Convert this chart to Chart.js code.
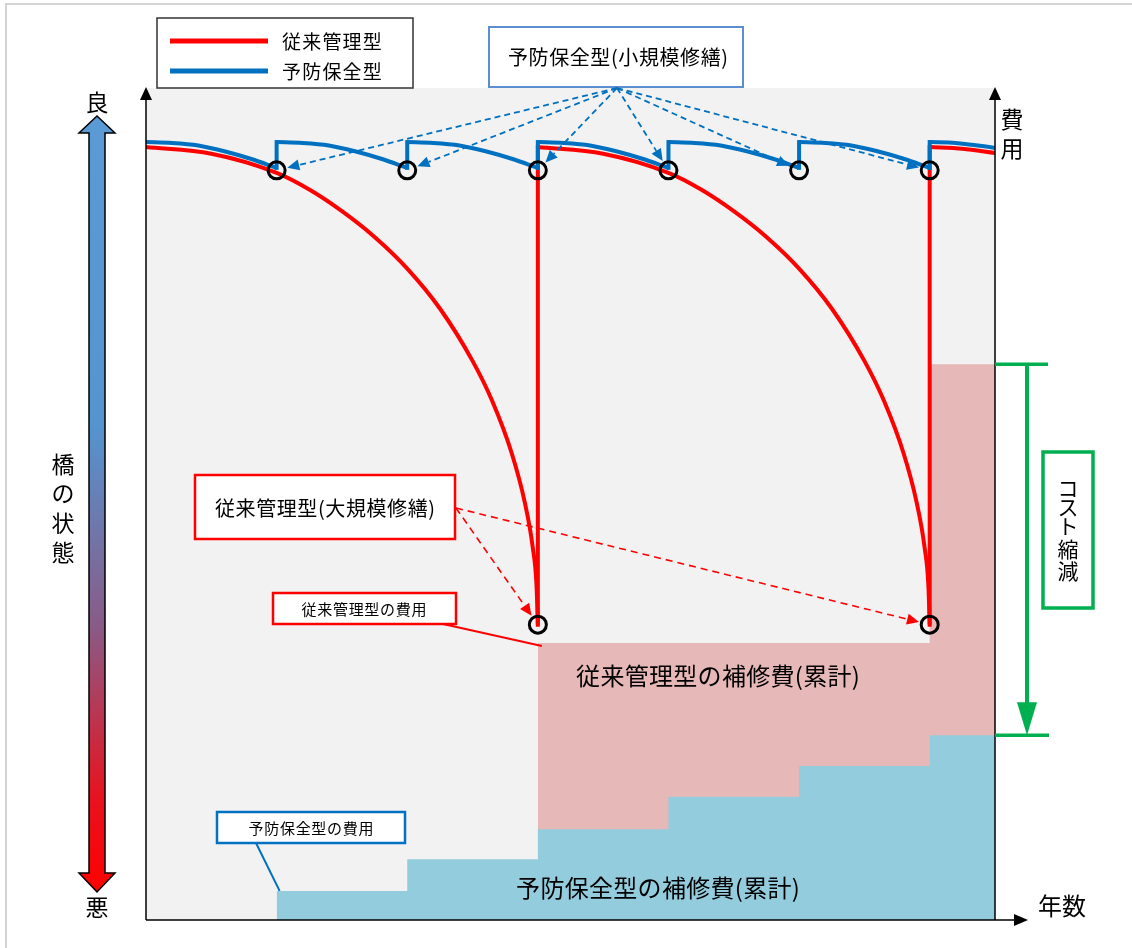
<!DOCTYPE html>
<html lang="ja">
<head>
<meta charset="utf-8">
<title>予防保全型と従来管理型</title>
<script src="https://cdn.jsdelivr.net/npm/chart.js@4.4.1/dist/chart.umd.min.js"></script>
<style>
  html, body { margin: 0; padding: 0; background: #fff; }
  #wrap { width: 1132px; height: 948px; }
</style>
</head>
<body>
<div id="wrap"><canvas id="lcc" width="1132" height="948"></canvas></div>
<script>
// x: 年数 (小規模修繕の間隔 = 1), y: 橋の状態 / 費用 (0-100)

// 従来管理型 (red)
var redArc1 = [[0,92.9],[0.5,92.1],[1.0,89.8],[1.25,87.8],[1.5,85.2],[1.75,82.1],[2.0,78.3],[2.25,73.5],[2.5,67.2],[2.65,62.4],[2.8,56.1],[2.9,50.2],[2.96,44.9],[2.99,40.2],[3.0,35.5]];
var redArc2 = [[3,92.9],[3.5,92.1],[4.0,89.8],[4.25,87.8],[4.5,85.2],[4.75,82.1],[5.0,78.3],[5.25,73.5],[5.5,67.2],[5.65,62.4],[5.8,56.1],[5.9,50.2],[5.96,44.9],[5.99,40.2],[6.0,35.5]];
var redArc3 = [[6,92.9],[6.25,92.7],[6.5,92.2]];
var redRepairX = [3, 6];
var redRepairLow = [35.5, 35.5];
var redRepairHigh = [92.9, 92.9];

// 予防保全型 (blue)
var blueArc0 = [[0,93.5],[0.2,93.4],[0.4,93.1],[0.6,92.4],[0.8,91.5],[1,90.4]];
var blueArc1 = [[1,93.5],[1.2,93.4],[1.4,93.1],[1.6,92.4],[1.8,91.5],[2,90.4]];
var blueArc2 = [[2,93.5],[2.2,93.4],[2.4,93.1],[2.6,92.4],[2.8,91.5],[3,90.4]];
var blueArc3 = [[3,93.5],[3.2,93.4],[3.4,93.1],[3.6,92.4],[3.8,91.5],[4,90.4]];
var blueArc4 = [[4,93.5],[4.2,93.4],[4.4,93.1],[4.6,92.4],[4.8,91.5],[5,90.4]];
var blueArc5 = [[5,93.5],[5.2,93.4],[5.4,93.1],[5.6,92.4],[5.8,91.5],[6,90.4]];
var blueArc6 = [[6,93.5],[6.2,93.4],[6.5,92.8]];
var blueRepairX = [1, 2, 3, 4, 5, 6];
var blueRepairLow = [90.4, 90.4, 90.4, 90.4, 90.4, 90.4];
var blueRepairHigh = [93.5, 93.5, 93.5, 93.5, 93.5, 93.5];

// 補修時点 (○)
var smallRepairX = [1, 2, 3, 4, 5, 6];
var smallRepairY = [90.1, 90.1, 90.1, 90.1, 90.1, 90.1];
var largeRepairX = [3, 6];
var largeRepairY = [35.5, 35.5];

// 補修費(累計)
var redCostX = [3, 6, 6.5];
var redCostY = [33.3, 66.8, 66.8];
var blueCostX = [1, 2, 3, 4, 5, 6, 6.5];
var blueCostY = [3.5, 7.3, 10.9, 14.8, 18.5, 22.2, 22.2];

var FONT = '"Noto Sans CJK JP", "Noto Sans", sans-serif';
var RED = '#ff0000', BLUE = '#0070c0', GREEN = '#00b050';

function pts(arr) {
  return arr.map(function (p) { return { x: p[0], y: p[1] }; });
}
function zipPts(xs, ys) {
  return xs.map(function (x, i) { return { x: x, y: ys[i] }; });
}
function curve(arr, color, order) {
  return { type: 'line', data: pts(arr), borderColor: color, borderWidth: 4, pointRadius: 0,
           cubicInterpolationMode: 'monotone', fill: false, order: order };
}
function jump(x, lo, hi, color, order) {
  return { type: 'line', data: [{ x: x, y: lo }, { x: x, y: hi }], borderColor: color, borderWidth: 4,
           borderCapStyle: 'square', pointRadius: 0, fill: false, order: order };
}

var datasets = [];
datasets.push({ type: 'line', label: '従来管理型の補修費(累計)', data: zipPts(redCostX, redCostY), stepped: 'before',
  borderWidth: 0, pointRadius: 0, fill: 'origin', backgroundColor: '#e6b8b7', order: 5 });
datasets.push({ type: 'line', label: '予防保全型の補修費(累計)', data: zipPts(blueCostX, blueCostY), stepped: 'before',
  borderWidth: 0, pointRadius: 0, fill: 'origin', backgroundColor: '#93cddd', order: 4 });
[redArc1, redArc2, redArc3].forEach(function (a) { datasets.push(curve(a, RED, 3)); });
redRepairX.forEach(function (x, i) { datasets.push(jump(x, redRepairLow[i], redRepairHigh[i], RED, 3)); });
[blueArc0, blueArc1, blueArc2, blueArc3, blueArc4, blueArc5, blueArc6].forEach(function (a) { datasets.push(curve(a, BLUE, 2)); });
blueRepairX.forEach(function (x, i) { datasets.push(jump(x, blueRepairLow[i], blueRepairHigh[i], BLUE, 2)); });
datasets.push({ type: 'scatter', data: zipPts(smallRepairX, smallRepairY).concat(zipPts(largeRepairX, largeRepairY)),
  pointRadius: 8.5, pointBorderWidth: 3, pointBorderColor: '#000', pointBackgroundColor: 'rgba(0,0,0,0)', order: 0 });

function arrowLine(c, x1, y1, x2, y2, color, dash, lw) {
  var ang = Math.atan2(y2 - y1, x2 - x1), hl = 12, hw = 5.5;
  var bx = x2 - hl * Math.cos(ang), by = y2 - hl * Math.sin(ang);
  c.save();
  c.strokeStyle = color; c.fillStyle = color; c.lineWidth = lw;
  c.setLineDash(dash);
  c.beginPath(); c.moveTo(x1, y1); c.lineTo(bx, by); c.stroke();
  c.setLineDash([]);
  c.beginPath();
  c.moveTo(x2, y2);
  c.lineTo(bx + hw * Math.sin(ang), by - hw * Math.cos(ang));
  c.lineTo(bx - hw * Math.sin(ang), by + hw * Math.cos(ang));
  c.closePath(); c.fill();
  c.restore();
}
function box(c, x, y, w, h, color, lw) {
  c.save();
  c.fillStyle = '#fff'; c.fillRect(x, y, w, h);
  c.strokeStyle = color; c.lineWidth = lw; c.strokeRect(x, y, w, h);
  c.restore();
}
function label(c, s, x, y, size, align, spacing) {
  c.save();
  c.fillStyle = '#000'; c.font = size + 'px ' + FONT;
  c.letterSpacing = (spacing || 0) + 'px';
  c.textAlign = align || 'center'; c.textBaseline = 'middle';
  c.fillText(s, x + (align === 'left' ? 0 : (spacing || 0) / 2), y);
  c.restore();
}
function vlabel(c, s, x, ys, size) {
  for (var i = 0; i < s.length; i++) label(c, s[i], x, ys[i], size);
}
function line(c, x1, y1, x2, y2, color, lw) {
  c.save(); c.strokeStyle = color; c.lineWidth = lw;
  c.beginPath(); c.moveTo(x1, y1); c.lineTo(x2, y2); c.stroke(); c.restore();
}
function tri(c, p, color) {
  c.save(); c.fillStyle = color; c.beginPath();
  c.moveTo(p[0], p[1]); c.lineTo(p[2], p[3]); c.lineTo(p[4], p[5]);
  c.closePath(); c.fill(); c.restore();
}

var sketch = {
  id: 'sketch',
  beforeDraw: function (chart) {
    var c = chart.ctx, a = chart.chartArea;
    c.save();
    c.fillStyle = '#fff'; c.fillRect(0, 0, chart.width, chart.height);
    c.strokeStyle = '#d4d4d4'; c.lineWidth = 2;
    c.beginPath(); c.moveTo(6, chart.height); c.lineTo(6, 4); c.lineTo(chart.width, 4); c.stroke();
    c.fillStyle = '#f2f2f2'; c.fillRect(a.left, a.top, a.right - a.left, a.bottom - a.top);
    c.restore();
  },
  afterDatasetsDraw: function (chart) {
    var c = chart.ctx, a = chart.chartArea, sx = chart.scales.x, sy = chart.scales.y;

    // axes
    line(c, a.left, a.bottom, a.left, 98, '#000', 1.5);
    tri(c, [a.left, 87, a.left - 6, 100, a.left + 6, 100], '#000');
    line(c, a.right, a.bottom, a.right, 98, '#000', 1.5);
    tri(c, [a.right, 87, a.right - 6, 100, a.right + 6, 100], '#000');
    line(c, a.left, a.bottom, 1015, a.bottom, '#000', 1.5);
    tri(c, [1028, a.bottom, 1014, a.bottom - 6, 1014, a.bottom + 6], '#000');
    vlabel(c, '費用', 1012, [119, 148], 23);
    label(c, '年数', 1062, 906, 24);

    // 橋の状態 arrow
    var g = c.createLinearGradient(0, 116, 0, 892);
    g.addColorStop(0, '#5b9bd5'); g.addColorStop(0.4, '#5494cf');
    g.addColorStop(0.66, '#8a5a86'); g.addColorStop(0.88, '#e8121e'); g.addColorStop(1, '#ff0000');
    c.save();
    c.beginPath();
    c.moveTo(97, 116); c.lineTo(115, 133); c.lineTo(105, 133); c.lineTo(105, 873); c.lineTo(115, 873);
    c.lineTo(97, 892); c.lineTo(79, 873); c.lineTo(89, 873); c.lineTo(89, 133); c.lineTo(79, 133);
    c.closePath();
    c.fillStyle = g; c.fill();
    c.strokeStyle = '#000'; c.lineWidth = 1.5; c.stroke();
    c.restore();
    label(c, '良', 97, 102, 23);
    label(c, '悪', 97, 907, 23);
    vlabel(c, '橋の状態', 63, [464, 493, 523, 552], 23);

    // legend
    box(c, 157, 18, 256, 70, '#333', 1.5);
    line(c, 170, 41, 268, 41, RED, 5);
    line(c, 170, 71, 268, 71, BLUE, 5);
    label(c, '従来管理型', 282, 42, 19, 'left', 1.2);
    label(c, '予防保全型', 282, 72, 19, 'left', 1.2);

    // 小規模修繕 callout
    box(c, 489, 27, 254, 60, '#5b8fd0', 2);
    label(c, '予防保全型(小規模修繕)', 618, 57, 20, 'center', 0.6);
    smallRepairX.forEach(function (x, i) {
      var px = sx.getPixelForValue(x), py = sy.getPixelForValue(smallRepairY[i]);
      var ox = 617, oy = 88, d = Math.hypot(px - ox, py - oy), k = (d - 11) / d;
      arrowLine(c, ox, oy, ox + (px - ox) * k, oy + (py - oy) * k, BLUE, [6, 4], 1.8);
    });

    // 大規模修繕 callout
    box(c, 195, 475, 260, 64, RED, 2.5);
    label(c, '従来管理型(大規模修繕)', 325, 508, 20, 'center', 0.6);
    largeRepairX.forEach(function (x, i) {
      var px = sx.getPixelForValue(x), py = sy.getPixelForValue(largeRepairY[i]);
      var ox = 456, oy = 508, d = Math.hypot(px - ox, py - oy), k = (d - 11) / d;
      arrowLine(c, ox, oy, ox + (px - ox) * k, oy + (py - oy) * k, RED, [7, 5], 1.6);
    });

    // 費用 callouts
    line(c, 443, 624, sx.getPixelForValue(redCostX[0]) + 4, sy.getPixelForValue(redCostY[0]) + 3, RED, 2);
    box(c, 273, 593, 183, 31, RED, 2.5);
    label(c, '従来管理型の費用', 364, 609, 15, 'center', 0.7);
    line(c, 256, 843, sx.getPixelForValue(blueCostX[0]) + 3, sy.getPixelForValue(blueCostY[0]), BLUE, 2);
    box(c, 217, 812, 188, 31, BLUE, 2.5);
    label(c, '予防保全型の費用', 311, 828, 15, 'center', 0.7);

    label(c, '従来管理型の補修費(累計)', 718, 676, 24, 'center', 0.3);
    label(c, '予防保全型の補修費(累計)', 658, 888, 24, 'center', 0.3);

    // コスト縮減
    var yTop = sy.getPixelForValue(redCostY[redCostY.length - 1]);
    var yBot = sy.getPixelForValue(blueCostY[blueCostY.length - 1]);
    line(c, a.right, yTop, 1048, yTop, GREEN, 3.5);
    line(c, a.right, yBot, 1049, yBot, GREEN, 3.5);
    line(c, 1027, yTop, 1027, yBot - 30, GREEN, 4);
    tri(c, [1017, yBot - 33, 1037, yBot - 33, 1027, yBot], GREEN);
    box(c, 1043, 452, 50, 156, GREEN, 3.5);
    vlabel(c, 'コスト縮減', 1068, [488, 507, 526, 549, 571], 21);
  }
};

new Chart(document.getElementById('lcc'), {
  type: 'line',
  data: { datasets: datasets },
  options: {
    responsive: false,
    animation: false,
    events: [],
    layout: { padding: { left: 146, right: 137, top: 88, bottom: 28 } },
    scales: {
      x: { type: 'linear', min: 0, max: 6.5, display: false },
      y: { type: 'linear', min: 0, max: 100, display: false }
    },
    plugins: { legend: { display: false }, tooltip: { enabled: false } }
  },
  plugins: [sketch]
});
</script>
</body>
</html>
